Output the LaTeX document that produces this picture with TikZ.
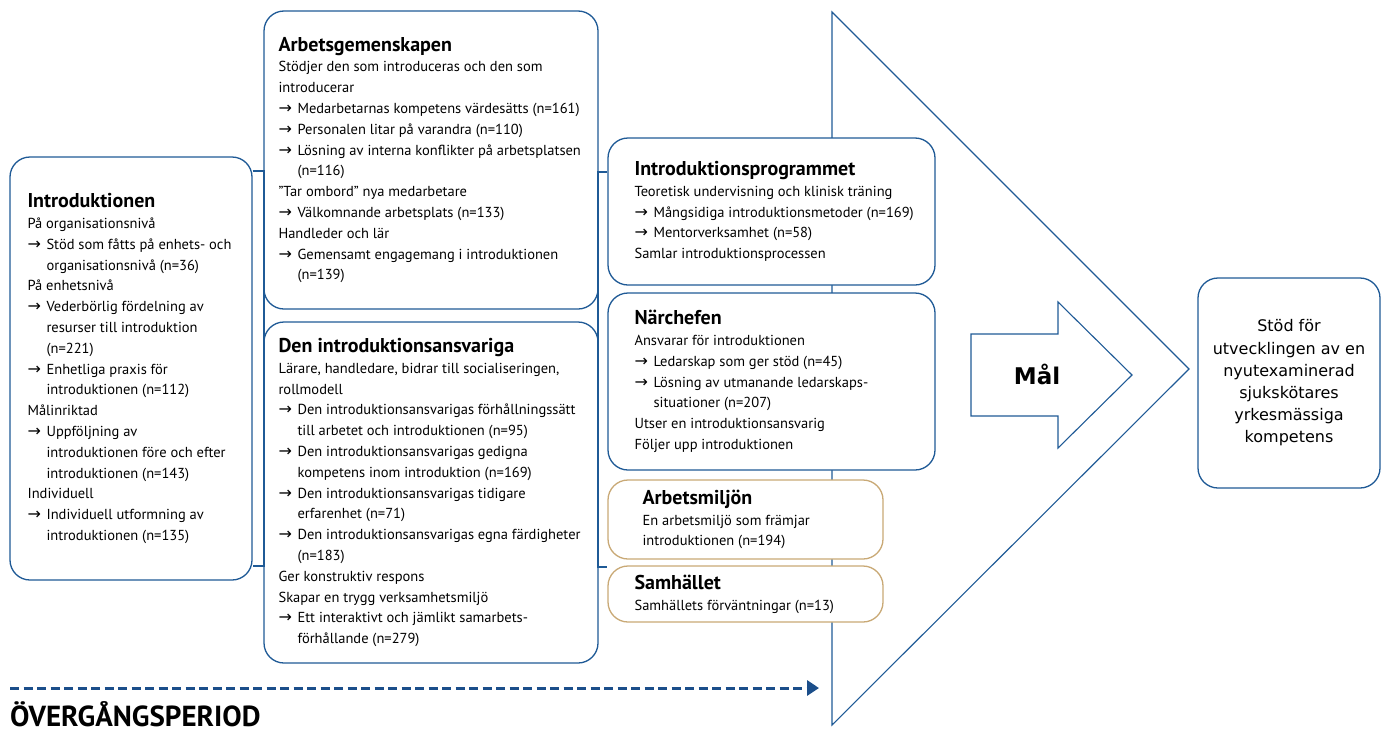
\documentclass[tikz,border=0pt]{standalone}
\usepackage{fontspec}
\setmainfont{PT Sans}
\newfontfamily\pilfont{DejaVu Sans}
\newfontfamily\malfont{DejaVu Sans}
\usetikzlibrary{positioning,arrows.meta}
\definecolor{ramblue}{RGB}{31,90,150}
\definecolor{ramtan}{RGB}{201,169,118}
\definecolor{pilblue}{RGB}{27,78,138}
\newcommand\pil{\makebox[19pt][l]{\pilfont\fontsize{16}{16}\selectfont →}}
\newcommand\ind{\hspace*{19pt}}
\newcommand\rubrik[1]{{\fontsize{20}{21}\selectfont\bfseries #1}}
\tikzset{
  ruta/.style={draw=ramblue, line width=1.3pt, rounded corners=20pt, fill=white, inner sep=0pt},
  tanruta/.style={ruta, draw=ramtan},
  brodtext/.style={inner sep=0pt, align=left, font=\fontsize{14.5}{20.8}\selectfont},
  lank/.style={draw=ramblue, line width=1.3pt},
}
\begin{document}
\begin{tikzpicture}[x=1pt,y=-1pt]
\path[use as bounding box] (0,0) rectangle (1386,731);
% stora triangeln bakom rutorna
\draw[ramblue, line width=1.1pt] (832,12) -- (1189,369) -- (832,725) -- cycle;
% rutor
\node[ruta, minimum width=242, minimum height=423] (intro) at (131,368.5) {};
\node[ruta, minimum width=334, minimum height=298] (arbgem) at (431,160) {};
\node[ruta, minimum width=334, minimum height=341] (ansv) at (431,492.5) {};
\node[ruta, minimum width=327, minimum height=147] (prog) at (771.5,211.5) {};
\node[ruta, minimum width=327, minimum height=177] (chef) at (771.5,381.5) {};
\node[tanruta, minimum width=275, minimum height=79] (miljo) at (745.5,519.5) {};
\node[tanruta, minimum width=275, minimum height=56] (samh) at (745.5,594) {};
\node[ruta, minimum width=182, minimum height=210, align=center,
  font=\malfont\fontsize{16}{22.2}\selectfont] (mal) at (1289,383)
  {Stöd för\\utvecklingen av en\\nyutexaminerad\\sjukskötares\\yrkesmässiga\\kompetens};
% texter
\node[brodtext, right=18pt of intro.west] (introtxt) {\rubrik{Introduktionen}\\
  På organisationsnivå\\
  \pil Stöd som fåtts på enhets- och\\
  \ind organisationsnivå (n=36)\\
  På enhetsnivå\\
  \pil Vederbörlig fördelning av\\
  \ind resurser till introduktion\\
  \ind (n=221)\\
  \pil Enhetliga praxis för\\
  \ind introduktionen (n=112)\\
  Målinriktad\\
  \pil Uppföljning av\\
  \ind introduktionen före och efter\\
  \ind introduktionen (n=143)\\
  Individuell\\
  \pil Individuell utformning av\\
  \ind introduktionen (n=135)};
\node[brodtext, right=15pt of arbgem.west] (arbgemtxt) {\rubrik{Arbetsgemenskapen}\\
  Stödjer den som introduceras och den som\\
  introducerar\\
  \pil Medarbetarnas kompetens värdesätts (n=161)\\
  \pil Personalen litar på varandra (n=110)\\
  \pil Lösning av interna konflikter på arbetsplatsen\\
  \ind (n=116)\\
  ”Tar ombord” nya medarbetare\\
  \pil Välkomnande arbetsplats (n=133)\\
  Handleder och lär\\
  \pil Gemensamt engagemang i introduktionen\\
  \ind (n=139)};
\node[brodtext, right=15pt of ansv.west] (ansvtxt) {\rubrik{Den introduktionsansvariga}\\
  Lärare, handledare, bidrar till socialiseringen,\\
  rollmodell\\
  \pil Den introduktionsansvarigas förhållningssätt\\
  \ind till arbetet och introduktionen (n=95)\\
  \pil Den introduktionsansvarigas gedigna\\
  \ind kompetens inom introduktion (n=169)\\
  \pil Den introduktionsansvarigas tidigare\\
  \ind erfarenhet (n=71)\\
  \pil Den introduktionsansvarigas egna färdigheter\\
  \ind (n=183)\\
  Ger konstruktiv respons\\
  Skapar en trygg verksamhetsmiljö\\
  \pil Ett interaktivt och jämlikt samarbets-\\
  \ind förhållande (n=279)};
\node[brodtext, right=27pt of prog.west] (progtxt) {\rubrik{Introduktionsprogrammet}\\
  Teoretisk undervisning och klinisk träning\\
  \pil Mångsidiga introduktionsmetoder (n=169)\\
  \pil Mentorverksamhet (n=58)\\
  Samlar introduktionsprocessen};
\node[brodtext, right=27pt of chef.west] (cheftxt) {\rubrik{Närchefen}\\
  Ansvarar för introduktionen\\
  \pil Ledarskap som ger stöd (n=45)\\
  \pil Lösning av utmanande ledarskaps-\\
  \ind situationer (n=207)\\
  Utser en introduktionsansvarig\\
  Följer upp introduktionen};
\node[brodtext, right=35pt of miljo.west] (miljotxt) {\rubrik{Arbetsmiljön}\\
  En arbetsmiljö som främjar\\
  introduktionen (n=194)};
\node[brodtext, right=27pt of samh.west] (samhtxt) {\rubrik{Samhället}\\
  Samhällets förväntningar (n=13)};
% klamrar mellan rutorna
\coordinate (vl1) at (264,171);
\coordinate (vl2) at (264,566);
\coordinate (vr1) at (598,172);
\coordinate (vr2) at (598,567);
\draw[lank] (intro.east |- vl1) -- (vl1) -- (vl2) -- (intro.east |- vl2);
\draw[lank] (prog.west |- vr1) -- (vr1) -- (vr2) -- (samh.west |- vr2);
% målpilen
\draw[ramblue, line width=1.1pt, fill=white] (971,334) -- (1058,334) -- (1058,302)
  -- (1132,375) -- (1058,448) -- (1058,416) -- (971,416) -- cycle;
\node[font=\malfont\bfseries\fontsize{23}{23}\selectfont] (maltxt) at (1037,374) {Mål};
% övergångsperioden
\coordinate (pstart) at (10,688);
\coordinate (pslut) at (819,688);
\draw[pilblue, line width=3pt, dash pattern=on 9pt off 4.5pt,
  -{Triangle[length=12pt,width=15pt]}] (pstart) -- (pslut);
\node[anchor=base west, inner sep=0pt, font=\fontsize{29}{29}\selectfont\bfseries]
  (period) at (10,726) {ÖVERGÅNGSPERIOD};
\end{tikzpicture}
\end{document}
